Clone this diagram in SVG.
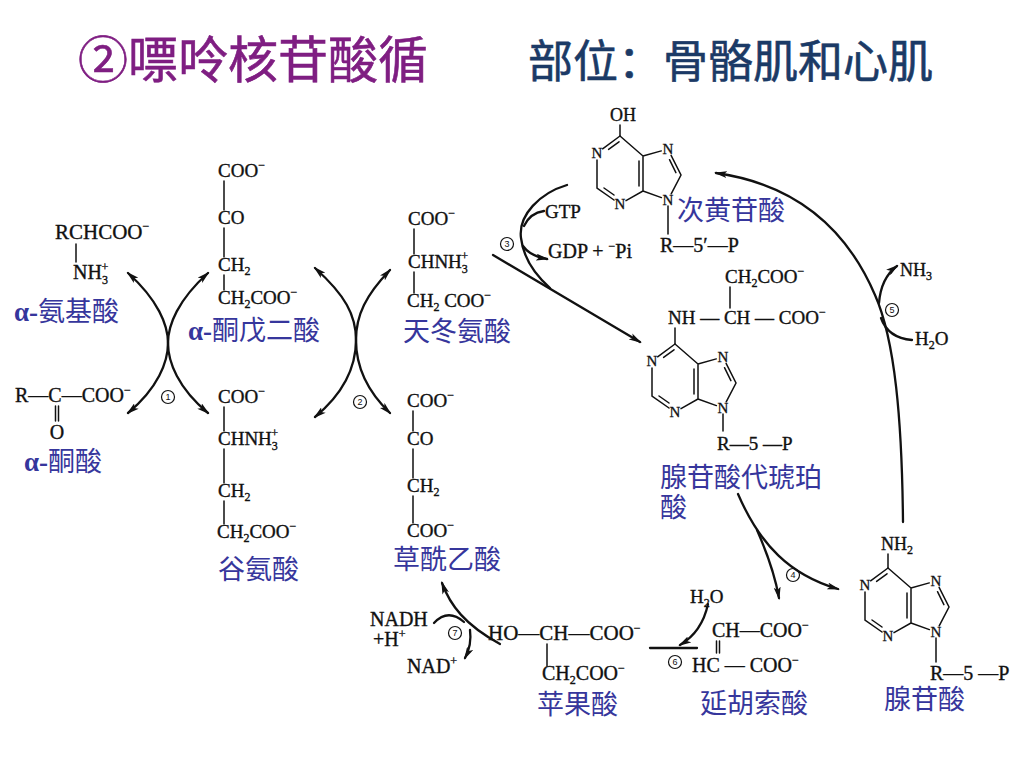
<svg xmlns="http://www.w3.org/2000/svg" xmlns:xlink="http://www.w3.org/1999/xlink" width="1024" height="768" viewBox="0 0 1024 768">
<style>
.t{font-family:"Liberation Serif","DejaVu Serif",serif;font-size:19px;fill:#111;stroke:#111;stroke-width:0.35}
.s{font-size:12px}
.lb{font-family:"Noto Sans CJK SC",sans-serif;font-size:27px;fill:#36369C}
.a{font-family:"Liberation Serif",serif;font-weight:bold}
.bd{stroke:#111;stroke-width:1.5;fill:none;stroke-linecap:round}
.cv{stroke:#111;stroke-width:2.3;fill:none;stroke-linecap:round}
.na{font-family:"Liberation Serif",serif;font-size:15px;fill:#111;stroke:#111;stroke-width:0.3;text-anchor:middle}
.cn circle{fill:none;stroke:#111;stroke-width:1.2}
.cn text{font-family:"Liberation Sans",sans-serif;font-size:9px;text-anchor:middle;fill:#111}
</style>
<defs>
<marker id="ah" markerUnits="userSpaceOnUse" markerWidth="13" markerHeight="7" refX="11" refY="3.5" orient="auto-start-reverse">
<path d="M0,0 L13,3.5 L0,7 L3,3.5 z" fill="#111"/>
</marker>
<g id="pur">
<path class="bd" d="M0,0 L-17.4,12.8 M-1,5.8 L-11.4,13.4 M-23,24 L-23,52 L-6,64 M-16,52 L-6,59 M6,64.6 L23,55 L23,20 L0,0 M19,50 L19,25 M23,20 L41.3,14.9 M51.1,19.3 L61,39 L51.2,57.8 M49.5,23.7 L55.9,36.6 M41.4,61.6 L23,55"/>
<text class="na" x="-23" y="22">N</text>
<text class="na" x="0" y="73">N</text>
<text class="na" x="48" y="18">N</text>
<text class="na" x="48" y="69">N</text>
</g>
</defs>
<rect width="1024" height="768" fill="#fff"/>

<g id="title">
<text x="78" y="78" style="font-family:'Noto Sans CJK SC',sans-serif;font-size:50px;fill:#7F1E82;stroke:#7F1E82;stroke-width:0.6">②嘌呤核苷酸循</text>
<text x="528" y="78" style="font-family:'Noto Sans CJK SC',sans-serif;font-size:45px;fill:#1B3A66;stroke:#1B3A66;stroke-width:0.6">部位：骨骼肌和心肌</text>
</g>

<g id="alpha-amino-acid">
<text class="t" x="55" y="239" style="font-size:21px">RCHCOO<tspan class="s" dy="-9">−</tspan></text>
<path class="bd" d="M76,244 V262"/>
<text class="t" x="73" y="279" style="font-size:20px">NH<tspan class="s" dy="5">3</tspan><tspan class="s" dx="-6.5" dy="-13">+</tspan></text>
<text class="lb" x="14" y="321"><tspan class="a">α-</tspan>氨基酸</text>
</g>

<g id="alpha-keto-acid">
<text class="t" x="15" y="402" style="font-size:20px">R—C—COO<tspan class="s" dy="-8">−</tspan></text>
<path class="bd" d="M55.5,406 V421 M58.5,406 V421"/>
<text class="t" x="57" y="439" text-anchor="middle" style="font-size:20px">O</text>
<text class="lb" x="24" y="471"><tspan class="a">α-</tspan>酮酸</text>
</g>

<g id="alpha-ketoglutarate">
<text class="t" x="218" y="177">COO<tspan class="s" dy="-8">−</tspan></text>
<path class="bd" d="M224,181 V210 M224,228 V257 M224,275 V290"/>
<text class="t" x="218" y="224">CO</text>
<text class="t" x="218" y="271">CH<tspan class="s" dy="4">2</tspan></text>
<text class="t" x="218" y="304">CH<tspan class="s" dy="4">2</tspan><tspan dy="-4">COO</tspan><tspan class="s" dy="-8">−</tspan></text>
<text class="lb" x="188" y="340"><tspan class="a">α-</tspan>酮戊二酸</text>
</g>

<g id="glutamate">
<text class="t" x="218" y="403">COO<tspan class="s" dy="-8">−</tspan></text>
<path class="bd" d="M224,407 V431 M224,449 V483 M224,501 V524"/>
<text class="t" x="218" y="445">CHNH<tspan class="s" dy="5">3</tspan><tspan class="s" dx="-6.5" dy="-13">+</tspan></text>
<text class="t" x="218" y="497">CH<tspan class="s" dy="4">2</tspan></text>
<text class="t" x="217" y="538">CH<tspan class="s" dy="4">2</tspan><tspan dy="-4">COO</tspan><tspan class="s" dy="-8">−</tspan></text>
<text class="lb" x="218" y="579">谷氨酸</text>
</g>

<g id="aspartate">
<text class="t" x="408" y="225">COO<tspan class="s" dy="-8">−</tspan></text>
<path class="bd" d="M414,229 V254 M414,272 V293"/>
<text class="t" x="408" y="268">CHNH<tspan class="s" dy="5">3</tspan><tspan class="s" dx="-6.5" dy="-13">+</tspan></text>
<text class="t" x="407" y="307">CH<tspan class="s" dy="4">2</tspan><tspan dy="-4"> COO</tspan><tspan class="s" dy="-8">−</tspan></text>
<text class="lb" x="403" y="341">天冬氨酸</text>
</g>

<g id="oxaloacetate">
<text class="t" x="407" y="407">COO<tspan class="s" dy="-8">−</tspan></text>
<path class="bd" d="M413,411 V431 M413,449 V478 M413,496 V523"/>
<text class="t" x="407" y="445">CO</text>
<text class="t" x="407" y="492">CH<tspan class="s" dy="4">2</tspan></text>
<text class="t" x="407" y="537">COO<tspan class="s" dy="-8">−</tspan></text>
<text class="lb" x="393" y="569">草酰乙酸</text>
</g>

<g id="imp">
<use xlink:href="#pur" href="#pur" transform="translate(620,136)"/>
<path class="bd" d="M620,136 V125 M668,206 V234"/>
<text class="t" x="623" y="121" text-anchor="middle" style="font-size:18px">OH</text>
<text class="t" x="660" y="252" style="font-size:20px">R—5′—P</text>
<text class="lb" x="677" y="220">次黄苷酸</text>
</g>

<g id="adenylosuccinate">
<text class="t" x="725" y="283">CH<tspan class="s" dy="4">2</tspan><tspan dy="-4">COO</tspan><tspan class="s" dy="-8">−</tspan></text>
<path class="bd" d="M730,287 V308 M675,328 V344 M723,414 V431"/>
<text class="t" x="668" y="324">NH — CH — COO<tspan class="s" dy="-8">−</tspan></text>
<use xlink:href="#pur" href="#pur" transform="translate(675,344)"/>
<text class="t" x="717" y="450">R—5 —P</text>
<text class="lb" x="660" y="487">腺苷酸代琥珀</text>
<text class="lb" x="660" y="517">酸</text>
</g>

<g id="amp">
<text class="t" x="881" y="550" style="font-size:18px">NH<tspan class="s" dy="4">2</tspan></text>
<path class="bd" d="M888,554 V568 M936,638 V662"/>
<use xlink:href="#pur" href="#pur" transform="translate(888,568)"/>
<text class="t" x="930" y="680" style="font-size:20px">R—5 —P</text>
<text class="lb" x="884" y="709">腺苷酸</text>
</g>

<g id="fumarate">
<text class="t" x="712" y="637" style="font-size:20px">CH—COO<tspan class="s" dy="-8">−</tspan></text>
<path class="bd" d="M716.5,641 V653 M719.5,641 V653"/>
<text class="t" x="692" y="672" style="font-size:20px">HC — COO<tspan class="s" dy="-8">−</tspan></text>
<text class="lb" x="700" y="713">延胡索酸</text>
</g>

<g id="malate">
<text class="t" x="488" y="640" style="font-size:21px">HO—CH—COO<tspan class="s" dy="-8">−</tspan></text>
<path class="bd" d="M547,644 V666"/>
<text class="t" x="542" y="680" style="font-size:20px">CH<tspan class="s" dy="4">2</tspan><tspan dy="-4">COO</tspan><tspan class="s" dy="-8">−</tspan></text>
<text class="lb" x="537" y="714">苹果酸</text>
</g>

<g id="connectors">
<path class="cv" marker-start="url(#ah)" marker-end="url(#ah)" d="M128,273 C158,300 168,325 168,343 C168,362 158,388 128,413"/>
<path class="cv" marker-start="url(#ah)" marker-end="url(#ah)" d="M208,273 C178,300 168,325 168,343 C168,362 178,388 208,413"/>
<path class="cv" marker-start="url(#ah)" marker-end="url(#ah)" d="M315,268 C345,295 356,315 356,340 C356,365 345,392 315,417"/>
<path class="cv" marker-start="url(#ah)" marker-end="url(#ah)" d="M390,270 C366,295 356,315 356,340 C356,365 366,390 390,413"/>

<path class="cv" marker-end="url(#ah)" d="M493,255 L640,342"/>
<path class="cv" d="M567,185 C540,193 518,215 521,238 C523,255 532,272 550,288"/>
<path class="cv" d="M544,211 Q530,213 524,226"/>
<path class="cv" marker-end="url(#ah)" d="M523,246 Q530,256 547,259"/>
<text class="t" x="545" y="218">GTP</text>
<text class="t" x="548" y="258" style="font-size:20px">GDP + <tspan class="s" dy="-8">−</tspan><tspan dy="8">Pi</tspan></text>

<path class="cv" marker-end="url(#ah)" d="M738,494 C760,545 790,575 838,589"/>
<path class="cv" marker-end="url(#ah)" d="M757,530 C768,555 775,575 779,598"/>

<path class="cv" marker-end="url(#ah)" d="M903,522 C902,420 895,340 875,295 C848,232 800,185 716,173"/>
<path class="cv" marker-end="url(#ah)" d="M879,303 Q881,278 897,266"/>
<path class="cv" d="M881,318 Q888,338 912,340"/>
<text class="t" x="900" y="276" style="font-size:18px">NH<tspan class="s" dy="4">3</tspan></text>
<text class="t" x="915" y="345">H<tspan class="s" dy="4">2</tspan><tspan dy="-4">O</tspan></text>

<path class="cv" d="M697,648 L650,648"/>
<path class="cv" marker-end="url(#ah)" d="M708,604 Q702,632 680,645"/>
<text class="t" x="690" y="603">H<tspan class="s" dy="4">2</tspan><tspan dy="-4">O</tspan></text>

<path class="cv" marker-start="url(#ah)" d="M442,583 C450,605 465,625 500,644"/>
<path class="cv" d="M434,623 Q448,608 464,622"/>
<path class="cv" marker-end="url(#ah)" d="M470,630 Q472,645 465,658"/>
<text class="t" x="370" y="626" style="font-size:20px">NADH</text>
<text class="t" x="373" y="646" style="font-size:20px">+H<tspan class="s" dy="-8">+</tspan></text>
<text class="t" x="407" y="673" style="font-size:20px">NAD<tspan class="s" dy="-8">+</tspan></text>
</g>

<g id="steps" class="cn">
<circle cx="168" cy="397" r="6.5"/><text x="168" y="400">1</text>
<circle cx="360" cy="402" r="6.5"/><text x="360" y="405">2</text>
<circle cx="507" cy="244" r="6.5"/><text x="507" y="247">3</text>
<circle cx="793" cy="575" r="6.5"/><text x="793" y="578">4</text>
<circle cx="892" cy="310" r="6.5"/><text x="892" y="313">5</text>
<circle cx="675" cy="662" r="6.5"/><text x="675" y="665">6</text>
<circle cx="455" cy="633" r="6.5"/><text x="455" y="636">7</text>
</g>
</svg>
